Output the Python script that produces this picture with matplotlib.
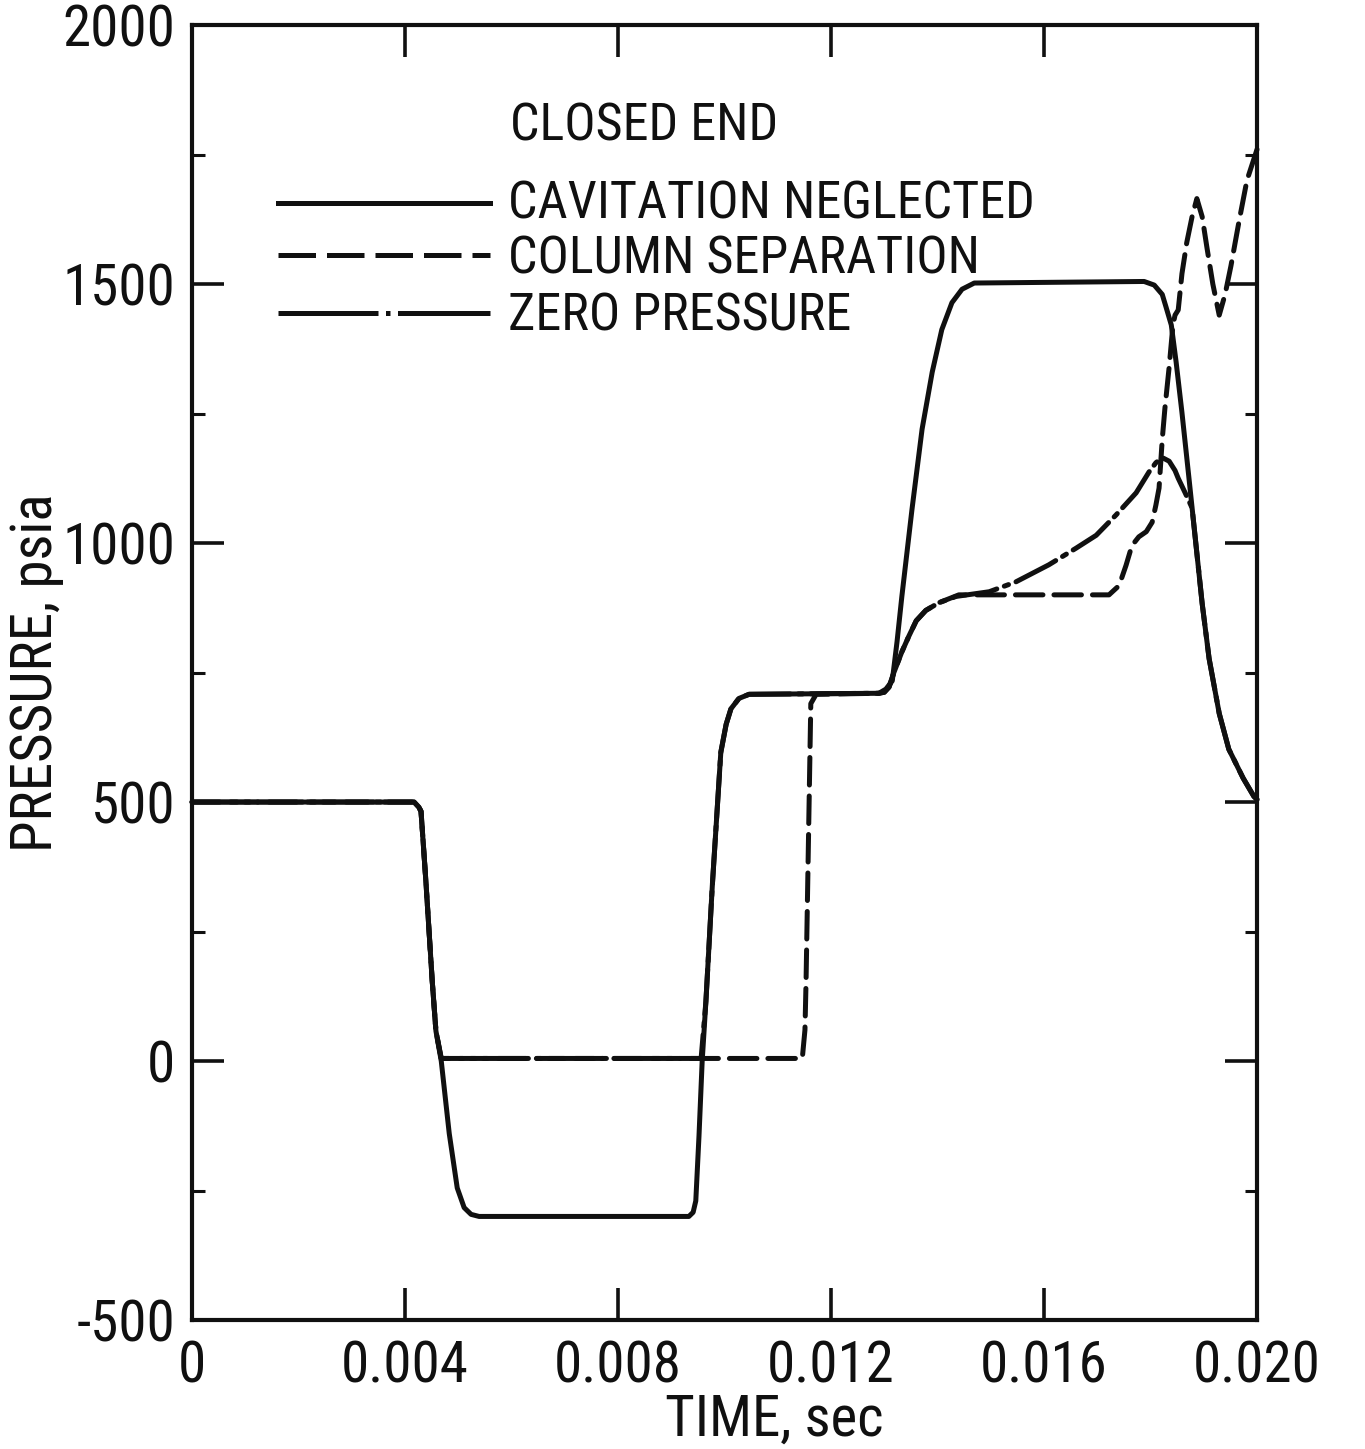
"""Closed-end pressure history: cavitation neglected vs column separation vs zero pressure."""

import matplotlib

matplotlib.use("Agg")

import matplotlib.pyplot as plt
from matplotlib import font_manager

# time (s) and pressure (psia)
NEGLECTED_T = [
    0.0, 0.00417, 0.00426, 0.00430, 0.00439, 0.00451, 0.00458, 0.00468, 0.00483,
    0.00498, 0.00511, 0.00524, 0.00539, 0.00933, 0.00941, 0.00946, 0.00952, 0.00958,
    0.00965, 0.00977, 0.00993, 0.01003, 0.01012, 0.01027, 0.01046, 0.01290, 0.01303,
    0.01315, 0.01324, 0.01333, 0.01352, 0.01371, 0.01390, 0.01408, 0.01427, 0.01446,
    0.01469, 0.01788, 0.01807, 0.01822, 0.01829, 0.01839, 0.01848, 0.01859, 0.01872,
    0.01885, 0.01897, 0.01910, 0.01929, 0.01947, 0.01974, 0.01994, 0.02000,
]
NEGLECTED_P = [
    500, 500, 490, 482, 349, 155, 58, 0, -140,
    -245, -283, -296, -300, -300, -292, -270, -145, 0,
    115, 338, 596, 650, 680, 700, 708, 710, 718,
    734, 810, 897, 1065, 1220, 1330, 1412, 1464, 1490,
    1502, 1505, 1498, 1480, 1456, 1421, 1350, 1252, 1127,
    1000, 883, 777, 671, 602, 546, 511, 505,
]

SEPARATION_T = [
    0.0, 0.00417, 0.00426, 0.00430, 0.00439, 0.00451, 0.00458, 0.00468, 0.01146,
    0.01151, 0.01153, 0.01162, 0.01172, 0.01290, 0.01300, 0.01309, 0.01318, 0.01333,
    0.01346, 0.01360, 0.01378, 0.01403, 0.01440, 0.01722, 0.01741, 0.01754, 0.01765,
    0.01778, 0.01792, 0.01803, 0.01810, 0.01816, 0.01822, 0.01827, 0.01835, 0.01842,
    0.01846, 0.01852, 0.01859, 0.01868, 0.01878, 0.01887, 0.01897, 0.01906, 0.01917,
    0.01929, 0.01940, 0.01951, 0.01966, 0.01981, 0.02000,
]
SEPARATION_P = [
    500, 500, 490, 482, 349, 155, 58, 5, 5,
    60, 150, 690, 708, 710, 712, 722, 750, 790,
    820, 850, 870, 885, 900, 900, 918, 957, 995,
    1012, 1022, 1040, 1073, 1106, 1200, 1260, 1340, 1420,
    1440, 1450, 1520, 1580, 1630, 1665, 1630, 1570, 1500,
    1440, 1480, 1535, 1620, 1700, 1760,
]

ZERO_T = [
    0.0, 0.00417, 0.00426, 0.00430, 0.00439, 0.00451, 0.00458, 0.00468, 0.00956,
    0.00965, 0.00977, 0.00993, 0.01003, 0.01012, 0.01027, 0.01046, 0.01290, 0.01300,
    0.01309, 0.01318, 0.01333, 0.01346, 0.01360, 0.01378, 0.01403, 0.01435, 0.01497,
    0.01547, 0.01609, 0.01660, 0.01698, 0.01735, 0.01773, 0.01797, 0.01810, 0.01822,
    0.01835, 0.01846, 0.01852, 0.01865, 0.01878, 0.01885, 0.01897, 0.01910, 0.01929,
    0.01947, 0.01974, 0.01994, 0.02000,
]
ZERO_P = [
    500, 500, 490, 482, 349, 155, 58, 5, 5,
    115, 338, 596, 650, 680, 700, 708, 710, 712,
    722, 750, 790, 820, 850, 870, 885, 897, 906,
    925, 958, 990, 1015, 1054, 1097, 1137, 1155, 1165,
    1158, 1140, 1125, 1097, 1068, 1000, 883, 777, 671,
    602, 546, 511, 505,
]

X_TICKS = [0.0, 0.004, 0.008, 0.012, 0.016, 0.020]
X_TICK_LABELS = ["0", "0.004", "0.008", "0.012", "0.016", "0.020"]
Y_TICKS = [-500, 0, 500, 1000, 1500, 2000]
Y_TICK_LABELS = ["-500", "0", "500", "1000", "1500", "2000"]
Y_MINOR_TICKS = [-250, 250, 750, 1250, 1750]

TITLE = "CLOSED END"
LEGEND_LABELS = ["CAVITATION NEGLECTED", "COLUMN SEPARATION", "ZERO PRESSURE"]

INK = "#101010"
LINE_WIDTH = 3.6
DASHED = (0, (5.5, 2.2))
DASH_DOT = (0, (9.0, 1.6, 0.9, 1.6))

# the original lettering is a narrow stencil face; take the first narrow family present
NARROW_CANDIDATES = [
    ("Roboto Condensed", 1.0),
    ("Archivo Narrow", 1.0),
    ("PT Sans Narrow", 1.0),
    ("Liberation Sans Narrow", 1.0),
    ("Open Sans Condensed", 1.0),
]


def pick_font() -> tuple[str, float]:
    installed = {entry.name for entry in font_manager.fontManager.ttflist}
    for name, scale in NARROW_CANDIDATES:
        if name in installed:
            return name, scale
    return "DejaVu Sans", 0.78


def main() -> None:
    family, scale = pick_font()
    plt.rcParams["font.family"] = [family, "DejaVu Sans"]
    tick_size = 41 * scale
    text_size = 37.5 * scale

    figure = plt.figure(figsize=(13.65, 14.49), dpi=100)
    axes = figure.add_axes([0.1407, 0.0890, 0.7802, 0.8937])

    styles = [
        (NEGLECTED_T, NEGLECTED_P, "-"),
        (SEPARATION_T, SEPARATION_P, DASHED),
        (ZERO_T, ZERO_P, DASH_DOT),
    ]
    for times, pressures, style in styles:
        axes.plot(times, pressures, linestyle=style, color=INK, linewidth=LINE_WIDTH,
                  solid_capstyle="round", solid_joinstyle="round",
                  dash_capstyle="round", dash_joinstyle="round", clip_on=False)

    axes.set_xlim(0.0, 0.020)
    axes.set_ylim(-500, 2000)
    axes.set_xticks(X_TICKS)
    axes.set_xticklabels(X_TICK_LABELS)
    axes.set_yticks(Y_TICKS)
    axes.set_yticklabels(Y_TICK_LABELS)
    axes.set_yticks(Y_MINOR_TICKS, minor=True)

    axes.tick_params(which="both", direction="in", top=True, right=True,
                     colors=INK, labelsize=tick_size)
    axes.tick_params(which="major", length=23, width=2.6)
    axes.tick_params(which="minor", length=9, width=2.2)
    axes.tick_params(axis="y", pad=12)
    axes.tick_params(axis="x", pad=14)
    for spine in axes.spines.values():
        spine.set_linewidth(3.0)
        spine.set_color(INK)

    axes.set_xlabel("TIME, sec", fontsize=tick_size, color=INK)
    axes.xaxis.set_label_coords(0.547, -0.056)
    axes.set_ylabel("PRESSURE, psia", fontsize=tick_size, color=INK)
    axes.yaxis.set_label_coords(-0.120, 0.50)

    axes.text(0.2986, 0.9112, TITLE, transform=axes.transAxes, fontsize=text_size,
              color=INK, va="baseline", ha="left")
    sample_y = [0.8625, 0.8224, 0.7776]
    label_y = [0.8510, 0.8085, 0.7645]
    sample_styles = ["-", (0, (7.5, 2.2)), (0, (20.0, 1.5, 0.9, 1.5))]
    for label, line_y, text_y, style in zip(LEGEND_LABELS, sample_y, label_y, sample_styles):
        axes.plot([0.081, 0.280], [line_y, line_y], transform=axes.transAxes,
                  linestyle=style, color=INK, linewidth=LINE_WIDTH)
        axes.text(0.2967, text_y, label, transform=axes.transAxes, fontsize=text_size,
                  color=INK, va="baseline", ha="left")

    figure.savefig("out.png", dpi=100, facecolor="white")
    plt.close(figure)


if __name__ == "__main__":
    main()
